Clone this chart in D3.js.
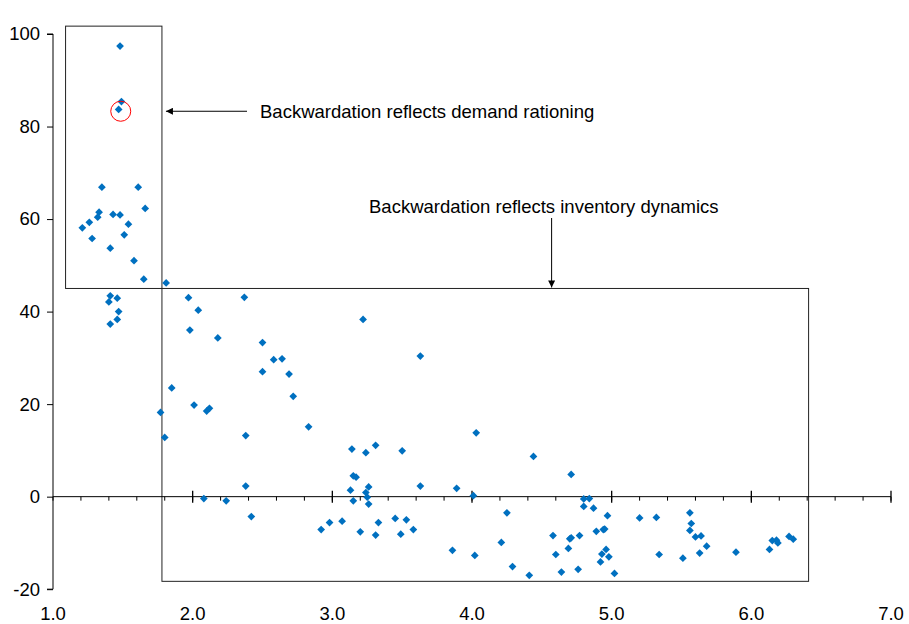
<!DOCTYPE html>
<html>
<head>
  <meta charset="utf-8">
  <title> Backwardation scatter </title>
  <script src="https://d3js.org/d3.v7.min.js"></script>
  <style>
    body { margin: 0; background: #fff; }
    text { font-family: "Liberation Sans", Arial, sans-serif; fill: #000; }
  </style>
</head>
<body>
</body>
</html>
<script>
// Scatter data
var xValues = [1.48, 1.49, 1.47, 1.35, 1.61, 1.66, 1.33, 1.32, 1.43, 1.48, 1.21, 1.26, 1.28, 1.54, 1.51,
  1.41, 1.58, 1.65, 1.81, 1.41, 1.46, 1.40, 1.47, 1.46, 1.41,
  1.97, 2.37, 2.04, 1.98, 2.18, 2.50, 2.58, 2.64, 2.50, 2.69, 2.72, 1.85, 2.01, 2.10, 2.12, 1.77, 1.80,
  2.38, 2.83, 2.38, 2.08, 2.24, 2.42,
  3.22, 3.63, 4.03, 3.14, 3.24, 3.31, 3.50, 3.15, 3.17, 3.63, 3.89, 3.13, 3.26, 3.24, 3.25, 4.01, 3.15,
  3.26, 2.92, 2.98, 3.07, 3.20, 3.31, 3.33, 3.45, 3.53, 3.49, 3.58, 3.86, 4.02,
  4.44, 4.71, 4.80, 4.84, 4.80, 4.87, 4.97, 4.25, 5.20, 4.89, 4.94, 4.95, 4.58, 4.77, 4.70, 4.71, 4.69,
  4.21, 4.60, 4.96, 4.93, 4.98, 4.92, 4.29, 4.41, 4.64, 4.76, 5.02,
  5.32, 5.56, 5.57, 5.56, 5.60, 5.64, 5.68, 5.34, 5.51, 5.63, 5.89, 6.13, 6.15, 6.18, 6.19, 6.27, 6.30];
var yValues = [97.4, 85.4, 83.7, 66.9, 66.9, 62.3, 61.5, 60.4, 61.0, 60.9, 58.1, 59.3, 55.8, 58.9, 56.6,
  53.7, 51.0, 47.0, 46.2, 43.4, 42.9, 42.1, 40.0, 38.3, 37.3,
  43.0, 43.1, 40.3, 36.0, 34.3, 33.3, 29.6, 29.8, 27.0, 26.5, 21.7, 23.5, 19.8, 18.5, 19.1, 18.2, 12.8,
  13.2, 15.1, 2.3, -0.4, -0.9, -4.3,
  38.3, 30.4, 13.8, 10.3, 9.5, 11.1, 9.9, 4.5, 4.2, 2.3, 1.8, 1.4, 2.1, 0.9, -0.1, 0.2, -0.9,
  -1.6, -7.1, -5.6, -5.3, -7.6, -8.3, -5.6, -4.7, -5.0, -8.1, -7.1, -11.6, -12.7,
  8.7, 4.8, -0.5, -0.4, -2.1, -2.5, -4.1, -3.5, -4.6, -7.5, -7.1, -7.0, -8.4, -8.4, -9.1, -8.9, -11.2,
  -9.9, -12.5, -11.4, -12.4, -13.0, -14.1, -15.1, -17.0, -16.3, -15.7, -16.6,
  -4.5, -3.5, -5.8, -7.3, -8.7, -8.5, -10.7, -12.5, -13.3, -12.2, -12.0, -11.4, -9.5, -9.4, -10.0, -8.6, -9.2];

var xTicks = [1, 2, 3, 4, 5, 6, 7];
var xMinorTicks = d3.range(1, 7.001, 0.2);
var yTicks = [-20, 0, 20, 40, 60, 80, 100];

// the two regions marked on the chart, in data units
var boxDemand = {x0: 1.09, x1: 1.78, y0: 45, y1: 101.7};
var boxInventory = {x0: 1.78, x1: 6.41, y0: -18.3, y1: 45};
var highlighted = {x: 1.485, y: 83.3};

var width = 909, height = 624;
var fontSize = "18.5px";
var x = d3.scaleLinear().domain([1, 7]).range([53, 891]);
var y = d3.scaleLinear().domain([-20, 100]).range([589.2, 34]);

var svg = d3.select("body").append("svg")
  .attr("width", width).attr("height", height);

svg.append("defs").append("marker")
  .attr("id", "head")
  .attr("viewBox", "0 0 10 10")
  .attr("refX", 10).attr("refY", 5)
  .attr("markerWidth", 9).attr("markerHeight", 7)
  .attr("markerUnits", "userSpaceOnUse")
  .attr("orient", "auto")
  .append("path").attr("d", "M0,0L10,5L0,10z").attr("fill", "#000");

// boxes
[boxDemand, boxInventory].forEach(function(b) {
  svg.append("rect")
    .attr("x", x(b.x0)).attr("y", y(b.y1))
    .attr("width", x(b.x1) - x(b.x0)).attr("height", y(b.y0) - y(b.y1))
    .attr("fill", "none").attr("stroke", "#222").attr("stroke-width", 1);
});

// y axis
var yAxis = svg.append("g").attr("transform", "translate(" + x(1) + ",0)")
  .call(d3.axisLeft(y).tickValues(yTicks).tickSize(6).tickPadding(7)
    .tickFormat(function(d) { return String(d); }));
yAxis.select(".domain").attr("d", "M-6," + y(100) + "H0V" + y(-20) + "H-6");
yAxis.selectAll("text").style("font-size", fontSize).style("font-family", "Liberation Sans, Arial, sans-serif");

// x axis drawn through zero
var xAxis = svg.append("g").attr("transform", "translate(0," + y(0) + ")");
xAxis.append("line").attr("x1", x(1)).attr("x2", x(7)).attr("stroke", "#000");
xAxis.selectAll(".minor").data(xMinorTicks).enter().append("line")
  .attr("x1", function(d) { return x(d); }).attr("x2", function(d) { return x(d); })
  .attr("y1", 0).attr("y2", 4).attr("stroke", "#000");
xAxis.selectAll(".major").data(xTicks.slice(1)).enter().append("line")
  .attr("x1", function(d) { return x(d); }).attr("x2", function(d) { return x(d); })
  .attr("y1", -6).attr("y2", 6).attr("stroke", "#000").attr("stroke-width", 1.3);

// x tick labels along the bottom
svg.selectAll(".xlab").data(xTicks).enter().append("text")
  .attr("x", function(d) { return x(d); }).attr("y", 620)
  .attr("text-anchor", "middle").style("font-size", fontSize)
  .text(function(d) { return d.toFixed(1); });

// points
var pts = xValues.map(function(d, i) { return {x: d, y: yValues[i]}; });
svg.selectAll(".pt").data(pts).enter().append("path")
  .attr("d", d3.symbol().type(d3.symbolSquare).size(30))
  .attr("transform", function(d) { return "translate(" + x(d.x) + "," + y(d.y) + ") rotate(45)"; })
  .attr("fill", "#0070C0");

// red circle around one point
svg.append("circle")
  .attr("cx", x(highlighted.x)).attr("cy", y(highlighted.y)).attr("r", 10)
  .attr("fill", "none").attr("stroke", "#f00").attr("stroke-width", 1);

// annotations
svg.append("line")
  .attr("x1", 247).attr("y1", y(83.3)).attr("x2", x(boxDemand.x1) + 4).attr("y2", y(83.3))
  .attr("stroke", "#000").attr("marker-end", "url(#head)");
svg.append("text").attr("x", 260).attr("y", y(83.3) + 6.5).style("font-size", fontSize)
  .text("Backwardation reflects demand rationing");

svg.append("line")
  .attr("x1", x(4.57)).attr("y1", 218).attr("x2", x(4.57)).attr("y2", y(boxInventory.y1) - 1)
  .attr("stroke", "#000").attr("marker-end", "url(#head)");
svg.append("text").attr("x", 369).attr("y", 212.5).style("font-size", fontSize)
  .text("Backwardation reflects inventory dynamics");
</script>
